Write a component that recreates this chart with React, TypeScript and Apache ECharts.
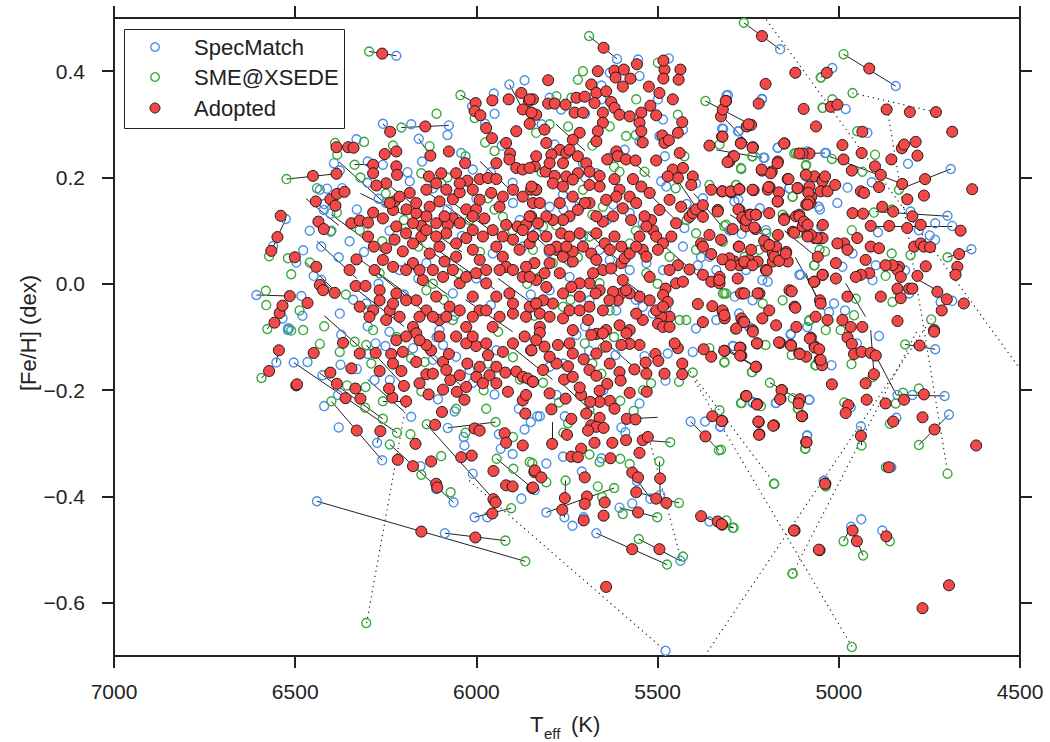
import { useEffect, useRef } from "react"
import * as echarts from "echarts"

// [Teff, [Fe/H]]
const specMatch: [number, number][] = [
  [6221,0.429],[5867,0.383],[5909,0.375],[5952,0.358],[6012,0.334],[6258,0.301],[6076,0.298],[5976,0.301],[6159,0.273],[6042,0.246],
  [6331,0.272],[6393,0.227],[6258,0.224],[6377,0.213],[6526,0.122],[6561,0.071],[6432,0.177],[6412,0.179],[6421,0.139],[6403,0.132],
  [6402,0.098],[6449,0.015],[6428,0.007],[6607,-0.021],[6483,-0.023],[6517,-0.084],[6478,0.063],[6428,0.070],[6184,0.193],[6010,0.215],
  [5955,0.057],[6065,-0.018],[6212,0.026],[6304,-0.037],[6102,-0.087],[5872,0.070],[5899,0.152],[6249,0.152],[6138,0.039],[6377,-0.056],
  [5612,0.423],[5554,0.422],[5469,0.424],[5162,0.441],[5306,0.355],[5212,0.347],[5322,0.292],[5276,0.287],[5205,0.237],[5168,0.256],
  [5035,0.246],[5136,0.180],[5090,0.202],[5055,0.145],[5049,0.108],[5109,0.017],[5196,0.004],[5302,0.101],[5288,0.155],[5426,0.105],
  [5389,0.035],[5476,0.183],[5490,0.193],[5632,0.397],[5550,0.391],[5495,0.278],[5550,0.268],[5430,0.290],[5655,0.373],[5798,0.350],
  [5766,0.328],[5655,0.347],[5499,0.347],[5485,0.309],[5591,0.252],[5784,0.262],[5632,0.237],[5706,0.227],[5669,0.208],[5619,0.196],
  [5394,0.189],[5375,0.161],[5449,0.208],[5761,0.168],[5715,0.152],[5623,0.149],[5577,0.133],[5541,0.114],[5798,0.145],[5835,0.095],
  [5706,0.089],[5660,0.064],[5632,0.045],[5577,0.026],[5531,0.039],[5485,0.026],[5430,0.070],[5357,0.051],[5338,0.026],[5256,0.026],
  [5201,0.101],[5743,0.013],[5798,-0.012],[5688,-0.031],[5614,-0.050],[5541,-0.043],[5513,-0.056],[5476,-0.046],[5394,-0.084],[5338,-0.068],
  [5247,-0.081],[5018,0.406],[4843,0.372],[4981,0.329],[4921,0.284],[4809,0.226],[4691,0.216],[4909,0.191],[4976,0.181],[5038,0.246],
  [5087,0.249],[5137,0.180],[5208,0.237],[5169,0.256],[5310,0.354],[5319,0.291],[5278,0.287],[5212,0.348],[5277,0.158],[5218,0.142],
  [5052,0.140],[5004,0.152],[4892,0.097],[4802,0.136],[4749,0.091],[4734,0.083],[4734,0.114],[4700,0.128],[4687,0.109],[4634,0.065],
  [4779,0.101],[4817,0.025],[4898,0.035],[4907,0.007],[4962,0.057],[4990,0.032],[5054,0.083],[5105,0.017],[5211,0.007],[5238,-0.031],
  [4806,-0.018],[4687,-0.032],[4719,-0.034],[4983,-0.050],[5027,-0.053],[5013,-0.037],[5087,-0.081],[5132,-0.094],[5275,-0.056],[5287,-0.024],
  [5268,0.094],[5293,-0.117],[5133,-0.096],[5082,-0.218],[5174,-0.224],[5238,-0.222],[5020,-0.153],[4734,-0.123],[4708,-0.211],[4797,-0.209],
  [4838,-0.209],[4841,-0.252],[4696,-0.246],[4939,-0.268],[4855,-0.345],[5088,-0.286],[5042,-0.371],[4938,-0.443],[4966,-0.457],[4880,-0.464],
  [5327,-0.269],[4889,-0.098],[4967,-0.232],[4950,-0.112],[6552,-0.148],[6504,-0.148],[6466,-0.147],[6425,-0.172],[6382,-0.209],[6375,-0.152],
  [6278,-0.112],[6251,-0.117],[6299,-0.132],[6281,-0.181],[6239,-0.181],[6274,-0.299],[6260,-0.332],[6440,-0.409],[6154,-0.343],[6111,-0.386],
  [6063,-0.411],[6087,-0.469],[6079,-0.271],[6035,-0.288],[6033,-0.304],[6010,-0.357],[6005,-0.439],[5970,-0.439],[5933,-0.310],[5938,-0.283],
  [5867,-0.274],[5876,-0.404],[5883,-0.235],[5832,-0.249],[6106,-0.217],[5950,-0.208],[6010,-0.186],[6373,-0.096],[6520,-0.087],[6175,-0.121],
  [6120,-0.143],[6092,-0.115],[6056,-0.137],[5945,-0.125],[6019,-0.162],[5724,-0.096],[5689,-0.126],[5616,-0.134],[5536,-0.136],[5478,-0.182],
  [5550,-0.225],[5409,-0.259],[5369,-0.259],[5327,-0.268],[5291,-0.117],[5237,-0.224],[5173,-0.224],[5081,-0.218],[5087,-0.285],[5040,-0.370],
  [5825,-0.249],[5807,-0.338],[5761,-0.325],[5709,-0.353],[5655,-0.328],[5589,-0.279],[5557,-0.371],[5570,-0.413],[5520,-0.404],[5493,-0.397],
  [5605,-0.421],[5704,-0.439],[5757,-0.439],[5807,-0.430],[5735,-0.455],[5669,-0.469],[5437,-0.521],[5478,-0.690],[5357,-0.447],[5839,-0.388],
  [5756,-0.249],[5779,-0.209],[5798,-0.156],[5472,-0.131],[5403,-0.128],[6497,0.040],[6535,-0.065],[6520,-0.084],
  [6300,0.190],[6270,0.160],[6330,0.140],[6350,0.080],[6310,0.060],[6270,0.000],[6240,0.100],[6190,0.210],[6150,0.230],[6120,0.180],
  [6080,0.140],[6040,0.090],[6000,0.160],[5960,0.210],[5930,0.260],[5900,0.190],[5880,0.120],[5920,0.030],[5960,-0.040],[6000,0.010],
  [6060,-0.060],[6110,-0.100],[6160,0.010],[6200,-0.020],[6240,-0.090],[6300,-0.080],[6340,-0.030],[6380,0.050],[6420,0.150],[6460,0.100],
  [6480,-0.060],[5850,-0.020],[5800,0.060],[5760,0.140],[5700,0.200],[5640,0.120],[5600,0.040],[5560,-0.030],[5520,0.170],[5480,0.240],
  [5420,0.150],[5380,0.050],[5700,-0.080],[5760,-0.150],[5650,-0.200],[5600,-0.270],[5850,-0.260],[5900,-0.320],[6060,-0.240],[6180,-0.250],
  [6330,-0.160],[6420,-0.230],[6380,-0.270],[5950,0.320],[6080,0.280],[6180,0.300],[6300,0.230],[6370,0.180],[5820,0.300],[5700,0.320],
]

const smeXsede: [number, number][] = [
  [6296,0.437],[6044,0.355],[6005,0.312],[6207,0.294],[5976,0.266],[6129,0.259],[6310,0.267],[6390,0.265],[6384,0.243],[6336,0.224],
  [6524,0.197],[6385,0.134],[6572,0.052],[6511,0.018],[6581,-0.013],[6577,-0.085],[6478,-0.087],[6152,0.208],[6097,0.189],[5968,0.161],
  [6322,0.101],[6267,0.020],[6019,0.120],[6138,-0.012],[5927,0.126],[5844,0.064],[6065,-0.068],[6285,-0.087],[6488,-0.050],
  [5689,0.466],[5262,0.491],[5049,0.388],[5044,0.331],[5368,0.344],[5239,0.240],[5269,0.216],[5329,0.262],[5118,0.246],[5090,0.224],
  [5127,0.164],[5283,0.186],[5357,0.186],[5311,0.111],[5320,0.079],[5113,0.095],[5067,0.035],[5053,0.064],[5081,-0.068],[5320,-0.018],
  [5439,-0.068],[5426,0.240],[5444,0.318],[5499,0.416],[5559,0.347],[5720,0.384],[5706,0.400],[5738,0.350],[5779,0.353],[5835,0.284],
  [5798,0.300],[5747,0.296],[5632,0.296],[5587,0.278],[5536,0.211],[5651,0.145],[5605,0.211],[5706,0.177],[5844,0.183],[5816,0.108],
  [5688,0.089],[5577,0.076],[5531,0.020],[5467,0.051],[5394,0.064],[5311,-0.018],[5421,-0.068],[5632,-0.050],[5761,-0.043],[5789,0.039],
  [5825,0.013],[5660,0.001],[5394,0.095],[5260,0.051],[5210,-0.037],[5155,-0.031],
  [4987,0.432],[5050,0.388],[4962,0.359],[5018,0.347],[5045,0.331],[4949,0.287],[4834,0.177],[4935,0.211],[4900,0.243],[5123,0.245],
  [5091,0.222],[5019,0.235],[5238,0.240],[5270,0.218],[5128,0.164],[4903,0.134],[4854,0.140],[4700,0.050],[4802,0.054],[4854,0.057],
  [4871,0.015],[4838,-0.013],[4852,-0.034],[4745,-0.067],[4953,-0.028],[4958,-0.059],[4995,-0.087],[5082,-0.070],[5036,-0.087],[5316,-0.018],
  [5286,-0.086],[5068,0.035],[5038,0.061],[5220,0.064],[5200,0.095],[5155,0.130],[4964,0.101],[5316,0.109],[5284,0.186],
  [5316,-0.148],[5240,-0.166],[5190,-0.186],[5270,-0.224],[5215,-0.230],[5112,-0.235],[5063,-0.153],[5130,-0.134],[4985,-0.223],[4965,-0.151],
  [4817,-0.114],[4907,-0.175],[4843,-0.225],[4823,-0.205],[4779,-0.197],[4859,-0.263],[4937,-0.304],[5093,-0.310],[4779,-0.303],[4870,-0.345],
  [4700,-0.357],[5179,-0.376],[5036,-0.381],[5310,-0.445],[5293,-0.459],[4987,-0.484],[4933,-0.511],[4859,-0.484],[5128,-0.545],[4964,-0.683],
  [5325,-0.312],
  [6593,-0.177],[6432,-0.113],[6336,-0.109],[6304,-0.115],[6377,-0.128],[6357,-0.191],[6306,-0.194],[6400,-0.221],[6307,-0.233],[6258,-0.254],
  [6258,-0.221],[6219,-0.280],[6182,-0.283],[6239,-0.302],[6137,-0.264],[6152,-0.202],[6097,-0.324],[6152,-0.359],[6071,-0.392],[6056,-0.235],
  [5973,-0.235],[5947,-0.260],[5944,-0.329],[5898,-0.348],[5904,-0.422],[5920,-0.483],[5865,-0.522],[6304,-0.638],[5846,-0.337],[5899,-0.288],
  [5968,-0.150],[6143,-0.147],[6511,-0.088],[5899,-0.138],
  [5853,-0.335],[5807,-0.373],[5754,-0.370],[5665,-0.381],[5620,-0.384],[5653,-0.401],[5596,-0.433],[5501,-0.439],[5441,-0.412],[5495,-0.334],
  [5577,-0.339],[5603,-0.329],[5660,-0.335],[5688,-0.321],[5465,-0.298],[5331,-0.313],[5329,-0.238],[5290,-0.459],[5552,-0.480],[5430,-0.513],
  [5474,-0.528],[5178,-0.376],[5127,-0.545],[5092,-0.310],[5127,-0.215],[5113,-0.235],[5268,-0.224],[5239,-0.166],[5315,-0.147],[5202,-0.115],
  [5065,-0.153],[5403,-0.167],[5441,-0.184],[5518,-0.187],[5603,-0.220],[5566,-0.239],[5747,-0.262],[5816,-0.186],[5772,-0.223],[5688,-0.238],
  [5655,-0.169],[5701,-0.112],[5651,-0.120],[5669,-0.096],[5357,-0.121],[6520,0.048],[6580,-0.040],
  [6320,0.200],[6250,0.170],[6200,0.120],[6160,0.070],[6120,0.000],[6080,0.200],[6030,0.240],[5990,0.060],[5950,0.140],[5900,0.100],
  [5860,0.000],[5820,0.210],[5780,0.110],[5720,0.050],[5680,0.130],[5620,0.220],[5560,0.100],[5500,0.000],[5450,0.180],[6400,0.100],
  [6360,-0.020],[6300,-0.050],[6260,0.080],[6220,-0.100],[6180,-0.140],[6090,-0.030],[6050,0.020],[6010,-0.100],[5940,-0.090],[5880,-0.180],
  [5840,-0.060],[5740,-0.030],[5680,-0.150],[5620,-0.100],[5540,-0.200],[5480,-0.080],[5420,0.120],[5950,0.250],[6110,0.320],[6230,0.260],
  [6440,0.180],[6460,0.040],[6420,-0.080],[6290,-0.150],[6030,-0.280],[5980,-0.200],[5760,-0.280],[5680,0.260],[5560,0.280],
]

const adopted: [number, number][] = [
  [6260,0.433],[5876,0.359],[5911,0.347],[5956,0.345],[6002,0.340],[6005,0.325],[5989,0.317],[5855,0.344],[5844,0.347],[5872,0.328],
  [5846,0.320],[5835,0.318],[6238,0.286],[6141,0.296],[5973,0.293],[5957,0.274],[5918,0.265],[5890,0.287],[5853,0.301],[5907,0.245],
  [6127,0.241],[6076,0.249],[6031,0.227],[6386,0.257],[6354,0.257],[6339,0.256],[6253,0.244],[6221,0.249],[6285,0.224],[6285,0.208],
  [6221,0.221],[6219,0.205],[6249,0.189],[6276,0.185],[6451,0.203],[6386,0.207],[6131,0.202],[6097,0.208],[6056,0.208],[6025,0.194],
  [5991,0.197],[5968,0.199],[5945,0.197],[5890,0.218],[5872,0.215],[5945,0.227],[5909,0.234],[6540,0.128],[6549,0.088],[6566,0.062],
  [6443,0.155],[6403,0.159],[6385,0.169],[6364,0.173],[6389,0.147],[6436,0.117],[6421,0.103],[6345,0.114],[6322,0.119],[6299,0.115],
  [6285,0.134],[6258,0.123],[6230,0.139],[6226,0.155],[6193,0.140],[6184,0.171],[6166,0.133],[6152,0.109],[6129,0.145],[6102,0.155],
  [6065,0.159],[6046,0.172],[6065,0.123],[6079,0.111],[6028,0.140],[6001,0.140],[5978,0.123],[5936,0.145],[5918,0.111],[5886,0.108],
  [5863,0.111],[5849,0.127],[5835,0.177],[5849,0.177],[6299,0.089],[6283,0.070],[6249,0.067],[6226,0.083],[6203,0.061],[6175,0.076],
  [6152,0.089],[6129,0.057],[6102,0.070],[6088,0.042],[6056,0.051],[6028,0.086],[6010,0.064],[5991,0.045],[5945,0.070],[5927,0.051],
  [5918,0.032],[5881,0.064],[5853,0.076],[5840,0.039],[6442,0.032],[6432,-0.002],[6423,-0.012],[6391,-0.017],[6515,-0.023],[6466,-0.036],
  [6543,-0.055],[6557,-0.073],[6331,0.046],[6350,0.026],[6333,-0.004],[6306,-0.004],[6281,0.026],[6267,-0.012],[6285,-0.050],[6239,-0.050],
  [6221,-0.018],[6175,0.039],[6166,-0.031],[6148,0.007],[6138,-0.050],[6111,-0.024],[6102,-0.068],[6074,-0.043],[6046,0.001],[6010,-0.024],
  [5991,-0.050],[5973,0.001],[5945,-0.024],[5909,-0.018],[5899,-0.056],[5872,0.013],[5853,-0.043],[5955,-0.081],[6028,-0.081],[6175,-0.081],
  [6249,-0.068],[6501,0.050],[6535,-0.041],[6497,-0.191],
  [6239,0.152],[6212,0.164],[6166,0.152],[6138,0.127],[6111,0.114],[6083,0.095],[6056,0.076],[6010,0.101],[5982,0.089],[5955,0.101],
  [5927,0.089],[5899,0.083],[5872,0.101],[5844,0.089],[6221,0.108],[6194,0.095],[6175,0.114],[6138,0.101],[6111,0.089],[6088,0.127],
  [6046,0.114],[6010,0.127],[5991,0.158],[5959,0.171],[5927,0.164],[5899,0.177],[5872,0.164],[5844,0.152],[6258,0.045],[6230,0.032],
  [6194,0.026],[6157,0.026],[6120,0.026],[6092,0.013],[6065,0.026],[6028,0.013],[6001,0.020],[5973,0.026],[5936,0.026],[5899,0.026],
  [5863,0.032],[6267,-0.031],[6230,-0.037],[6194,-0.031],[6157,-0.062],[6120,-0.062],[6083,-0.062],[6046,-0.050],[6010,-0.062],[5973,-0.050],
  [5936,-0.062],[5899,-0.037],[5863,-0.062],[5835,-0.037],[6212,-0.062],[6295,-0.062],[6322,-0.043],[6010,0.177],[6083,0.177],[6138,0.177],
  [6111,0.189],[6046,0.189],
  [5649,0.444],[5802,0.383],[5665,0.400],[5619,0.401],[5616,0.388],[5593,0.403],[5575,0.386],[5557,0.413],[5596,0.371],[5524,0.371],
  [5495,0.359],[5481,0.403],[5484,0.420],[5484,0.386],[5437,0.403],[5442,0.384],[5458,0.347],[5683,0.375],[5724,0.350],[5701,0.352],
  [5669,0.359],[5642,0.362],[5628,0.342],[5619,0.331],[5802,0.339],[5784,0.339],[5754,0.337],[5729,0.322],[5706,0.322],[5674,0.340],
  [5651,0.322],[5605,0.318],[5577,0.315],[5545,0.322],[5550,0.303],[5504,0.317],[5520,0.335],[5545,0.287],[5541,0.266],[5487,0.279],
  [5481,0.265],[5469,0.270],[5444,0.284],[5432,0.304],[5651,0.303],[5665,0.287],[5669,0.268],[5715,0.284],[5734,0.271],[5807,0.265],
  [5812,0.290],[5853,0.347],[5848,0.322],[5770,0.252],[5752,0.246],[5743,0.252],[5793,0.243],[5761,0.227],[5720,0.240],[5697,0.227],
  [5639,0.234],[5614,0.249],[5610,0.240],[5587,0.234],[5561,0.232],[5504,0.232],[5439,0.246],[5458,0.215],[5430,0.218],[5403,0.202],
  [5407,0.186],[5444,0.199],[5472,0.202],[5809,0.211],[5784,0.203],[5752,0.202],[5720,0.208],[5688,0.211],[5660,0.203],[5619,0.197],
  [5568,0.197],[5545,0.183],[5522,0.171],[5577,0.164],[5605,0.177],[5660,0.183],[5688,0.186],[5789,0.189],[5835,0.177],[5848,0.183],
  [5734,0.196],[5839,0.221],[5835,0.240],[5853,0.218],[5798,0.227],[5761,0.183],[5467,0.158],[5435,0.145],[5412,0.126],[5403,0.133],
  [5394,0.140],[5375,0.148],[5334,0.139],[5325,0.315],[5320,0.328],[5311,0.344],[5322,0.277],[5357,0.260],[5302,0.230],[5291,0.240],
  [5254,0.296],[5242,0.299],[5270,0.265],[5237,0.257],[5221,0.339],[5202,0.376],[5120,0.397],[5097,0.329],[5063,0.296],[5212,0.466],
  [5168,0.230],[5150,0.264],[5185,0.211],[5212,0.213],[5141,0.197],[5113,0.180],[5081,0.245],[5100,0.245],[5109,0.245],[5067,0.202],
  [5044,0.196],[5081,0.183],[5076,0.164],[5090,0.149],[5078,0.152],[5352,0.177],[5322,0.174],[5297,0.172],[5274,0.178],[5235,0.176],
  [5191,0.182],[5196,0.177],[5168,0.155],[5150,0.123],[5127,0.098],[5118,0.127],[5109,0.130],[5100,0.108],[5086,0.092],[5067,0.086],
  [5049,0.086],[5044,0.111],[5058,0.051],[5044,0.017],[5067,0.004],[5334,0.136],[5274,0.139],[5265,0.123],[5247,0.130],[5228,0.130],
  [5256,0.108],[5230,0.103],[5375,0.126],[5357,0.092],[5380,0.076],[5375,0.070],[5352,0.056],[5325,0.083],[5302,0.045],[5288,0.042],
  [5274,0.035],[5260,0.039],[5247,0.045],[5224,0.042],[5242,0.064],[5276,0.070],[5200,0.070],[5182,0.057],[5173,0.070],[5168,0.092],
  [5182,0.042],[5145,0.060],[5141,0.042],[5375,0.017],[5352,0.004],[5329,0.001],[5329,0.013],[5279,0.010],[5265,-0.018],[5219,-0.018],
  [5201,0.026],[5136,-0.012],[5122,-0.043],[5173,-0.078],[5269,-0.065],[5265,-0.072],[5320,-0.053],[5315,-0.065],[5389,-0.038],[5349,-0.042],
  [5283,-0.084],[5375,-0.072],[5412,0.027],[5444,0.035],[5449,0.001],[5430,0.004],[5478,-0.009],[5485,-0.021],[5472,-0.034],[5467,-0.062],
  [5490,-0.062],[5499,-0.075],[5485,-0.081],[5467,-0.081],[5522,-0.031],[5550,-0.024],[5577,-0.018],[5600,-0.018],[5587,-0.012],[5610,-0.031],
  [5623,-0.015],[5633,-0.031],[5660,-0.012],[5671,-0.018],[5688,0.001],[5715,0.001],[5738,-0.006],[5761,-0.018],[5789,-0.037],[5816,-0.031],
  [5835,-0.037],[5825,-0.056],[5798,-0.062],[5761,-0.065],[5743,-0.050],[5715,-0.050],[5688,-0.043],[5692,-0.068],[5642,-0.087],[5605,-0.078],
  [5577,-0.087],[5541,-0.068],[5504,-0.050],[5835,0.007],[5853,0.013],[5812,0.020],[5798,0.039],[5779,0.064],[5761,0.051],[5734,0.042],
  [5734,0.061],[5706,0.070],[5683,0.057],[5669,0.045],[5651,0.026],[5628,0.029],[5600,0.039],[5591,0.048],[5577,0.057],[5541,0.064],
  [5531,0.051],[5550,0.089],[5513,0.101],[5504,0.089],[5485,0.076],[5499,0.064],[5518,0.120],[5536,0.127],[5573,0.120],[5596,0.142],
  [5623,0.127],[5651,0.117],[5669,0.127],[5688,0.152],[5701,0.152],[5720,0.139],[5743,0.127],[5761,0.120],[5789,0.120],[5807,0.127],
  [5830,0.114],[5853,0.127],[5844,0.089],[5807,0.089],[5779,0.070],[5766,0.095],[5743,0.089],[5715,0.095],[5669,0.095],[5646,0.076],
  [5619,0.089],[5600,0.070],[5449,0.114],[5462,0.089],[5531,0.108],
  [5825,0.152],[5770,0.152],[5734,0.164],[5642,0.158],[5614,0.164],[5559,0.152],[5495,0.139],[5798,0.064],[5752,0.070],[5632,0.064],
  [5559,0.070],[5467,0.026],[5522,0.013],[5596,0.007],[5678,0.020],[5770,0.020],[5807,-0.006],[5715,-0.024],[5651,-0.050],[5559,-0.056],
  [5485,-0.043],[5825,-0.081],[5734,-0.087],[5669,-0.094],
  [4916,0.405],[5033,0.397],[5022,0.333],[5004,0.337],[4868,0.328],[4804,0.323],[4732,0.323],[4687,0.286],[4935,0.286],[4826,0.255],
  [4820,0.262],[4788,0.267],[4783,0.241],[4990,0.261],[4937,0.246],[4987,0.234],[4855,0.234],[4900,0.221],[4884,0.205],[4964,0.213],
  [4762,0.197],[4632,0.178],[4825,0.188],[4889,0.182],[4939,0.174],[4930,0.171],[4811,0.159],[4765,0.166],[4880,0.145],[4850,0.136],
  [4797,0.127],[4774,0.111],[4664,0.100],[4962,0.133],[4933,0.132],[4912,0.109],[4861,0.109],[4811,0.105],[4792,0.070],[4774,0.076],
  [4765,0.070],[4748,0.069],[4668,0.056],[4673,0.032],[4678,0.017],[4760,0.033],[4783,0.015],[4834,0.032],[4838,0.026],[4829,0.013],
  [4852,0.035],[4871,0.035],[4884,-0.024],[4838,-0.009],[4806,-0.009],[4797,-0.009],[4829,-0.027],[4728,-0.015],[4702,-0.029],[4716,-0.050],
  [4655,-0.037],[4838,-0.070],[4737,-0.087],[4935,-0.081],[4916,0.020],[4939,0.017],[4953,0.013],[4926,0.045],[4912,0.070],[4889,0.067],
  [4949,0.086],[4985,0.076],[5004,0.076],[4976,0.064],[5008,0.039],[5045,0.086],[5061,0.086],[5077,0.092],[5086,0.089],[5109,0.127],
  [5096,0.117],[5086,0.111],[5084,0.171],[5082,0.155],[5086,0.149],[5045,0.193],[5038,0.202],[5050,0.174],[5031,0.174],[5010,0.186],
  [5091,0.205],[5114,0.180],[5139,0.197],[5165,0.172],[5169,0.155],[5188,0.208],[5213,0.215],[5238,0.256],[5270,0.264],[5169,0.227],
  [5151,0.264],[5289,0.240],[5307,0.229],[5321,0.277],[5312,0.344],[5249,0.300],[5321,0.174],[5298,0.174],[5275,0.178],[5238,0.177],
  [5194,0.182],[5277,0.140],[5266,0.125],[5256,0.120],[5243,0.130],[5229,0.130],[5192,0.133],[5151,0.120],[5123,0.096],[5233,0.106],
  [5206,0.081],[5192,0.073],[5178,0.051],[5165,0.043],[5146,0.057],[5261,0.042],[5238,0.035],[5275,0.070],[5293,0.103],[5302,0.048],
  [5321,0.046],[5298,0.035],[5330,0.007],[5321,-0.050],[5316,-0.059],[5270,-0.018],[5261,-0.018],[5224,-0.018],[5238,-0.087],[5261,-0.072],
  [5211,-0.065],[5192,-0.050],[5130,-0.014],[5120,-0.045],[5068,0.004],[5045,0.017],[5008,0.010],[5052,-0.031],[5050,-0.037],[5031,-0.068],
  [5064,-0.062],[4990,-0.068],[4976,-0.024],[4967,-0.081],[5117,-0.081],[5199,0.025],
  [6545,-0.125],[6572,-0.164],[6495,-0.189],[6449,-0.130],[6403,-0.167],[6385,-0.188],[6361,-0.215],[6334,-0.197],[6320,-0.216],[6330,-0.276],
  [6265,-0.277],[6217,-0.331],[6175,-0.343],[6168,-0.301],[6152,-0.466],[6111,-0.376],[6108,-0.383],[6125,-0.334],[6042,-0.326],[6013,-0.323],
  [6003,-0.477],[5953,-0.352],[5918,-0.379],[5900,-0.381],[5953,-0.405],[5947,-0.411],[5956,-0.432],[5922,-0.281],[5918,-0.299],[5872,-0.304],
  [5846,-0.384],[5840,-0.354],[6005,-0.272],[5991,-0.276],[6114,-0.265],[6095,-0.241],[6033,-0.218],[6054,-0.203],[6092,-0.199],[6132,-0.208],
  [6194,-0.221],[6200,-0.192],[6232,-0.214],[6241,-0.197],[6267,-0.164],[6207,-0.164],[6235,-0.132],[6203,-0.128],[6166,-0.147],[6138,-0.170],
  [6072,-0.181],[6046,-0.172],[6025,-0.150],[6000,-0.175],[5964,-0.172],[5920,-0.167],[5913,-0.203],[5890,-0.165],[5872,-0.175],[5858,-0.178],
  [5844,-0.184],[5872,-0.219],[5863,-0.209],[5865,-0.244],[5968,-0.134],[6001,-0.117],[6028,-0.112],[6092,-0.147],[6076,-0.132],[6125,-0.125],
  [6138,-0.115],[6166,-0.093],[6221,-0.106],[6278,-0.130],[6322,-0.131],[6368,-0.111],[6345,-0.159],[5927,-0.128],[5899,-0.112],[5867,-0.099],
  [5849,-0.125],[6194,-0.099],[6157,-0.106],[6102,-0.099],[6056,-0.099],[6010,-0.099],[5973,-0.112],[6120,-0.169],[6083,-0.162],[5991,-0.156],
  [5945,-0.156],[6028,-0.194],[5982,-0.187],[5945,-0.187],[6157,-0.187],[6230,-0.150],
  [5825,-0.092],[5683,-0.096],[5743,-0.112],[5775,-0.115],[5812,-0.118],[5848,-0.125],[5704,-0.142],[5779,-0.150],[5747,-0.155],[5688,-0.162],
  [5669,-0.173],[5758,-0.180],[5844,-0.184],[5711,-0.209],[5715,-0.195],[5660,-0.201],[5639,-0.188],[5632,-0.220],[5619,-0.235],[5660,-0.222],
  [5686,-0.222],[5754,-0.216],[5793,-0.236],[5738,-0.254],[5697,-0.244],[5660,-0.252],[5585,-0.254],[5561,-0.255],[5683,-0.266],[5669,-0.269],
  [5649,-0.271],[5692,-0.276],[5750,-0.284],[5791,-0.301],[5674,-0.299],[5625,-0.299],[5587,-0.294],[5541,-0.294],[5527,-0.288],[5711,-0.310],
  [5738,-0.325],[5720,-0.326],[5630,-0.328],[5550,-0.318],[5839,-0.351],[5821,-0.364],[5844,-0.383],[5701,-0.364],[5570,-0.355],[5554,-0.364],
  [5559,-0.392],[5493,-0.366],[5504,-0.404],[5476,-0.412],[5756,-0.403],[5695,-0.400],[5646,-0.411],[5701,-0.414],[5763,-0.425],[5704,-0.445],
  [5649,-0.436],[5554,-0.430],[5570,-0.499],[5495,-0.499],[5642,-0.570],[5380,-0.437],[5334,-0.447],[5322,-0.453],[5122,-0.464],[5053,-0.501],
  [5037,-0.376],[5349,-0.249],[5322,-0.258],[5368,-0.287],[5221,-0.260],[5179,-0.266],[5219,-0.283],[5256,-0.211],[5225,-0.226],[5157,-0.200],
  [5161,-0.216],[5109,-0.219],[5101,-0.249],[5090,-0.298],[5352,-0.137],[5373,-0.123],[5315,-0.126],[5271,-0.120],[5269,-0.135],[5228,-0.156],
  [5225,-0.112],[5237,-0.090],[5162,-0.111],[5132,-0.115],[5077,-0.101],[5067,-0.117],[5109,-0.131],[5090,-0.137],[5053,-0.143],[5046,-0.153],
  [5432,-0.150],[5444,-0.121],[5453,-0.112],[5506,-0.132],[5498,-0.145],[5481,-0.169],[5432,-0.170],[5533,-0.148],[5531,-0.169],[5564,-0.161],
  [5605,-0.166],[5602,-0.182],[5550,-0.115],[5577,-0.113],[5600,-0.115],[5586,-0.093],[5651,-0.093],[5577,-0.205],[5530,-0.203],
  [5835,-0.106],[5798,-0.137],[5734,-0.131],[5669,-0.131],[5632,-0.150],[5816,-0.162],[5734,-0.175],[5798,-0.206],[5642,-0.118],
  [4777,-0.116],[5273,-0.120],[5272,-0.135],[5316,-0.126],[5229,-0.156],[5226,-0.112],[5165,-0.110],[5132,-0.116],[5108,-0.132],[5080,-0.103],
  [5066,-0.120],[5054,-0.123],[5050,-0.143],[4976,-0.101],[4964,-0.113],[4958,-0.132],[4937,-0.128],[4912,-0.130],[4898,-0.135],[4737,-0.090],
  [4903,-0.170],[4926,-0.187],[5019,-0.189],[4923,-0.218],[4871,-0.225],[4820,-0.218],[4765,-0.208],[4769,-0.251],[4736,-0.274],[4621,-0.304],
  [4850,-0.259],[4939,-0.286],[4974,-0.228],[4981,-0.243],[4862,-0.345],[5089,-0.298],[5102,-0.249],[5222,-0.259],[5220,-0.284],[5181,-0.267],
  [5158,-0.200],[5162,-0.217],[5107,-0.217],[5111,-0.225],[5255,-0.211],[5226,-0.227],[5038,-0.376],[5124,-0.464],[5055,-0.500],[4962,-0.464],
  [4950,-0.484],[4869,-0.475],[4696,-0.567],[4769,-0.610],[5323,-0.452],[5323,-0.258],
]

// pairs joining the two pipelines' values for one star: [Teff1, FeH1, Teff2, FeH2]
const solidLinks: [number, number, number, number][] = [
  [6296,0.437,6221,0.429],[6044,0.355,6002,0.340],[6159,0.273,6127,0.241],[6207,0.294,6076,0.298],[6524,0.197,6386,0.207],
  [6526,0.122,6549,0.088],[6549,0.088,6572,0.052],[6607,-0.021,6515,-0.023],[6543,-0.055,6577,-0.085],[6428,0.007,6391,-0.017],
  [6258,0.301,6238,0.286],[6336,0.224,6285,0.224],[5909,0.375,5872,0.328],
  [6330,0.050,6170,-0.030],[6290,0.030,6130,-0.060],[6400,0.130,6260,0.060],[6350,0.000,6200,-0.080],[6230,0.110,6060,0.030],
  [6440,0.080,6330,0.010],[6150,0.180,6010,0.110],[6100,0.060,5950,-0.010],[6320,0.170,6200,0.130],[6470,0.160,6380,0.110],
  [5689,0.466,5612,0.423],[5262,0.491,5162,0.441],[5368,0.344,5242,0.299],[5306,0.355,5311,0.344],[5338,0.252,5212,0.237],
  [5470,0.220,5380,0.130],[5400,0.170,5300,0.090],[5300,0.130,5180,0.080],[5150,0.100,5060,0.050],[5120,0.050,5040,-0.050],
  [5780,0.300,5700,0.250],[5600,0.250,5520,0.200],
  [4987,0.432,4843,0.372],[5050,0.388,5018,0.406],[5321,0.315,5213,0.238],[5027,0.240,4825,0.188],[4834,0.177,4762,0.197],
  [4762,0.197,4691,0.216],[4898,0.136,4697,0.127],[4912,0.109,4687,0.109],[4700,0.050,4634,0.065],[4779,0.007,4714,-0.018],
  [5123,0.245,5038,0.246],[5091,0.020,5054,-0.037],[4981,0.001,4926,-0.062],
  [5330,-0.118,5229,-0.156],[4912,-0.087,4903,-0.170],[4898,-0.135,4841,-0.209],[4841,-0.209,4708,-0.211],[4817,-0.114,4734,-0.123],
  [4779,-0.303,4696,-0.246],[4939,-0.268,4937,-0.304],[5088,-0.286,5093,-0.310],[5190,-0.186,5108,-0.218],[4966,-0.457,4987,-0.484],
  [4962,-0.464,4933,-0.511],[4880,-0.464,4859,-0.484],[5330,-0.450,5293,-0.459],[5042,-0.371,5036,-0.381],
  [6545,-0.125,6552,-0.148],[6572,-0.164,6593,-0.177],[6504,-0.148,6219,-0.280],[6400,-0.221,6260,-0.332],[6432,-0.168,6258,-0.254],
  [6440,-0.409,5865,-0.522],[6087,-0.469,5920,-0.483],[6239,-0.302,6063,-0.411],[6138,-0.264,5953,-0.405],[6005,-0.439,5904,-0.422],
  [6079,-0.271,5947,-0.260],[6258,-0.221,6194,-0.221],[6274,-0.299,6265,-0.277],[5944,-0.329,5846,-0.384],[6304,-0.115,6200,-0.192],
  [6150,-0.120,6030,-0.200],
  [5669,-0.469,5474,-0.528],[5552,-0.480,5437,-0.521],[5754,-0.370,5757,-0.439],[5495,-0.334,5493,-0.397],[5807,-0.430,5620,-0.384],
  [5605,-0.421,5501,-0.439],[5559,-0.392,5441,-0.412],[5409,-0.259,5331,-0.313],[5380,-0.437,5290,-0.459],[5585,-0.254,5500,-0.251],
  [5541,-0.294,5465,-0.298],[5791,-0.260,5791,-0.301],[5577,-0.351,5522,-0.401],[5320,-0.118,5228,-0.156],
  [6380,0.230,6250,0.150],[6250,0.190,6120,0.120],[6170,0.120,6040,0.060],[6060,0.150,5920,0.080],[5990,0.230,5880,0.160],
  [5800,0.200,5700,0.140],[5700,0.100,5600,0.040],[5620,0.020,5520,-0.030],[6030,-0.030,5900,-0.090],[5900,-0.120,5790,-0.180],
  [5760,-0.190,5650,-0.260],[6300,-0.180,6200,-0.240],[6200,0.040,6080,-0.020],[5940,0.010,5820,-0.050],[5840,0.090,5740,0.030],
  [5540,0.180,5450,0.120],[5480,0.070,5380,0.010],[5660,-0.100,5560,-0.160],[6470,0.040,6380,-0.020],[6420,-0.060,6320,-0.120],
]

const dottedLinks: [number, number, number, number][] = [
  [5200,0.497,4500,-0.160],[4962,0.359,4733,0.323],[4866,0.328,4699,-0.357],[6303,-0.638,6193,-0.223],[6020,-0.370,5479,-0.690],
  [5370,-0.700,4745,-0.066],[5128,-0.545,4785,-0.090],[5404,-0.175,4963,-0.683],[5410,-0.165,5178,-0.375],[5520,-0.300,5435,-0.520],
]

const fehTicks = [-0.6, -0.4, -0.2, 0, 0.2, 0.4]

const FONT = "'Liberation Sans', Arial, sans-serif"
const INK = "#222"
const BLUE = "#4a8fe6"
const GREEN = "#38a93a"
const RED = "#f34848"

export default function App() {
  const chartRef = useRef<HTMLDivElement>(null)

  useEffect(() => {
    document.body.style.margin = "0"
    if (!chartRef.current) return
    const chart = echarts.init(chartRef.current, null, { renderer: "svg" })

    const axisLine = { show: true, onZero: false, lineStyle: { color: INK, width: 2 } }
    const tick = { show: true, inside: false, length: 12, lineStyle: { color: INK, width: 2 } }

    const option: echarts.EChartsOption = {
      animation: false,
      backgroundColor: "#fff",
      textStyle: { fontFamily: FONT },
      grid: { left: 114, right: 30, top: 18, bottom: 86 },
      xAxis: [
        {
          type: "value",
          min: 4500,
          max: 7000,
          interval: 500,
          inverse: true,
          axisLine,
          axisTick: tick,
          splitLine: { show: false },
          axisLabel: {
            fontSize: 21,
            color: INK,
            margin: 25,
            showMinLabel: true,
            showMaxLabel: true,
            formatter: (v: number) => String(v),
          },
        },
        {
          type: "value",
          position: "top",
          min: 4500,
          max: 7000,
          interval: 500,
          inverse: true,
          axisLine,
          axisTick: tick,
          splitLine: { show: false },
          axisLabel: { show: false },
        },
      ],
      yAxis: [
        {
          type: "value",
          min: -0.7,
          max: 0.5,
          axisLine,
          axisTick: { ...tick, customValues: fehTicks },
          splitLine: { show: false },
          axisLabel: {
            fontSize: 21,
            color: INK,
            margin: 29,
            customValues: fehTicks,
            formatter: (v: number) => v.toFixed(1).replace("-", "\u2212"),
          },
        },
        {
          type: "value",
          position: "right",
          min: -0.7,
          max: 0.5,
          axisLine,
          axisTick: { ...tick, customValues: fehTicks },
          splitLine: { show: false },
          axisLabel: { show: false },
        },
      ],
      series: [
        {
          type: "lines",
          coordinateSystem: "cartesian2d",
          clip: true,
          silent: true,
          z: 1,
          lineStyle: { color: INK, width: 1, opacity: 1 },
          data: solidLinks.map(([a, b, c, d]) => ({ coords: [[a, b], [c, d]] })),
        },
        {
          type: "lines",
          coordinateSystem: "cartesian2d",
          clip: true,
          silent: true,
          z: 1,
          lineStyle: { color: INK, width: 1.2, opacity: 1, type: [1.2, 4] },
          data: dottedLinks.map(([a, b, c, d]) => ({ coords: [[a, b], [c, d]] })),
        },
        {
          name: "SpecMatch",
          type: "scatter",
          z: 2,
          symbol: "circle",
          symbolSize: 9,
          itemStyle: { color: "rgba(0,0,0,0)", borderColor: BLUE, borderWidth: 1.4, opacity: 1 },
          data: specMatch,
        },
        {
          name: "SME@XSEDE",
          type: "scatter",
          z: 3,
          symbol: "circle",
          symbolSize: 9,
          itemStyle: { color: "rgba(0,0,0,0)", borderColor: GREEN, borderWidth: 1.4, opacity: 1 },
          data: smeXsede,
        },
        {
          name: "Adopted",
          type: "scatter",
          z: 4,
          symbol: "circle",
          symbolSize: 11,
          itemStyle: { color: RED, borderColor: "#1a1a1a", borderWidth: 1, opacity: 1 },
          data: adopted,
        },
      ],
      graphic: [
        {
          type: "group",
          z: 100,
          children: [
            { type: "rect", shape: { x: 124.5, y: 29.5, width: 220, height: 99 }, style: { fill: "#fff", stroke: INK, lineWidth: 1 } },
            { type: "circle", shape: { cx: 155, cy: 47, r: 4.3 }, style: { fill: "none", stroke: BLUE, lineWidth: 1.4 } },
            { type: "circle", shape: { cx: 155, cy: 77, r: 4.3 }, style: { fill: "none", stroke: GREEN, lineWidth: 1.4 } },
            { type: "circle", shape: { cx: 155, cy: 108, r: 5 }, style: { fill: RED, stroke: "#1a1a1a", lineWidth: 1 } },
            { type: "text", x: 194, y: 47, style: { text: "SpecMatch", fontSize: 22, fontFamily: FONT, fill: INK, verticalAlign: "middle" } },
            { type: "text", x: 194, y: 77, style: { text: "SME@XSEDE", fontSize: 22, fontFamily: FONT, fill: INK, verticalAlign: "middle" } },
            { type: "text", x: 194, y: 108, style: { text: "Adopted", fontSize: 22, fontFamily: FONT, fill: INK, verticalAlign: "middle" } },
          ],
        },
        { type: "text", x: 530, y: 735, style: { text: "T", fontSize: 22, fontFamily: FONT, fill: INK, verticalAlign: "bottom" } },
        { type: "text", x: 544, y: 741, style: { text: "eff", fontSize: 15, fontFamily: FONT, fill: INK, verticalAlign: "bottom" } },
        { type: "text", x: 571, y: 735, style: { text: "(K)", fontSize: 22, fontFamily: FONT, fill: INK, verticalAlign: "bottom" } },
        {
          type: "text",
          x: 28,
          y: 333,
          rotation: Math.PI / 2,
          style: { text: "[Fe/H] (dex)", fontSize: 22, fontFamily: FONT, fill: INK, align: "center", verticalAlign: "middle" },
        },
      ],
    }

    chart.setOption(option)
    return () => chart.dispose()
  }, [])

  return <div ref={chartRef} style={{ width: 1050, height: 742 }} />
}
